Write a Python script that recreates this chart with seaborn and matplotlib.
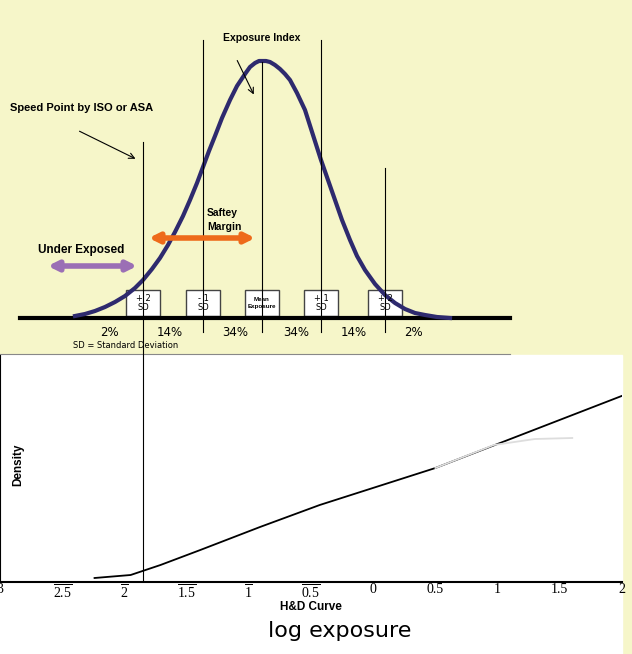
import matplotlib
matplotlib.use("Agg")
import matplotlib.pyplot as plt
import seaborn as sns
import pandas as pd

# bell curve (pixel coords of the top diagram)
bell_x = [75, 85, 95, 105, 115, 125, 135, 143, 152, 160, 168, 175, 183, 190, 197, 203,
          209, 215, 222, 230, 237, 245, 250, 255, 259, 262, 266, 270, 275, 280, 285,
          290, 297, 305, 313, 321, 328, 335, 342, 350, 357, 365, 375, 385, 395, 405,
          415, 425, 437, 450]
bell_y = [316, 314, 311, 307, 302, 296, 288, 280, 269, 258, 245, 232, 216, 200, 183, 167,
          151, 136, 118, 100, 86, 74, 67, 63, 61, 61, 61, 62, 65, 69, 74,
          80, 93, 110, 135, 160, 180, 200, 220, 240, 256, 270, 284, 295, 303, 309,
          313, 315, 317, 318]
sd_x = [143, 203, 262, 321, 385]
sd_labels = ["+ 2\nSD", "- 1\nSD", "Mean\nExposure", "+ 1\nSD", "+ 2\nSD"]
pct_x = [109, 170, 235, 296, 354, 413]
pct_labels = ["2%", "14%", "34%", "34%", "14%", "2%"]

# H&D curve
log_e = [-2.24, -1.95, -1.71, -1.39, -0.91, -0.43, 0.50, 2.08]
density = [0.04, 0.07, 0.17, 0.32, 0.55, 0.77, 1.14, 1.90]
shoulder_e = [0.50, 0.97, 1.30, 1.60]
shoulder_d = [1.14, 1.37, 1.43, 1.44]
ticks = [-3, -2.5, -2, -1.5, -1, -0.5, 0, 0.5, 1, 1.5, 2]
tick_labels = ["3", r"$\overline{2.5}$", r"$\overline{2}$", r"$\overline{1.5}$", r"$\overline{1}$",
               r"$\overline{0.5}$", "0", "0.5", "1", "1.5", "2"]

plt.rcParams["mathtext.fontset"] = "custom"
plt.rcParams["mathtext.rm"] = "Liberation Serif"
plt.rcParams["mathtext.it"] = "Liberation Serif"

W, H = 632, 654
fig = plt.figure(figsize=(W / 100, H / 100), dpi=100)
fig.patch.set_facecolor("#f6f6c9")

bold = dict(family="Liberation Sans", weight="bold", color="black")

# bottom: H&D curve
ax = fig.add_axes([0, (H - 582) / H, 622 / W, (582 - 355) / H])
ax.set_facecolor("white")
sns.lineplot(x=log_e, y=density, ax=ax, color="black", lw=1.3)
sns.lineplot(x=shoulder_e, y=shoulder_d, ax=ax, color="#dddddd", lw=1.3)
ax.set_xlim(-3, 2)
ax.set_ylim(0, 2.27)
for s in ["top", "right"]:
    ax.spines[s].set_visible(False)
ax.spines["bottom"].set_linewidth(1.5)
ax.set_yticks([])
ax.set_xticks(ticks)
ax.set_xticklabels(tick_labels, family="Liberation Serif", fontsize=10)
ax.tick_params(axis="x", length=0, pad=1)
fig.patches.append(plt.Rectangle((0, 0), 622 / W, (H - 355) / H, transform=fig.transFigure,
                                 color="white", zorder=-1))

# top: overlay in pixel coordinates
ov = fig.add_axes([0, 0, 1, 1], facecolor="none")
ov.set_xlim(0, W)
ov.set_ylim(H, 0)
ov.axis("off")

ov.plot([20, 510], [318, 318], color="black", lw=3)
ov.plot([0, 510], [354, 354], color="#888888", lw=0.8)
sns.lineplot(x=bell_x, y=bell_y, ax=ov, color="#2e2a6e", lw=3, sort=False)

tops = [142, 40, 62, 40, 168]
for x, t in zip(sd_x, tops):
    bottom = 580 if x == 143 else 332
    ov.plot([x, x], [t, bottom], color="black", lw=0.8)
for x, lab in zip(sd_x, sd_labels):
    ov.add_patch(plt.Rectangle((x - 17, 290), 34, 26, facecolor="white", edgecolor="#444444", lw=1))
    if "Mean" in lab:
        ov.text(x, 303, lab, ha="center", va="center", fontsize=4.5, **bold, linespacing=1.4)
    else:
        ov.text(x, 303, lab, ha="center", va="center", fontsize=6, family="DejaVu Sans", linespacing=1)
for x, lab in zip(pct_x, pct_labels):
    ov.text(x, 333, lab, ha="center", va="center", fontsize=8.5, family="DejaVu Sans")
ov.text(73, 346, "SD = Standard Deviation", ha="left", va="center", fontsize=6, family="DejaVu Sans")

ov.text(262, 38, "Exposure Index", ha="center", va="center", fontsize=7.5, **bold)
ov.annotate("", xy=(255, 97), xytext=(236, 58),
            arrowprops=dict(arrowstyle="->", color="black", lw=0.8))
ov.text(10, 108, "Speed Point by ISO or ASA", ha="left", va="center", fontsize=8, **bold)
ov.annotate("", xy=(138, 160), xytext=(77, 130),
            arrowprops=dict(arrowstyle="->", color="black", lw=0.8))
ov.text(207, 220, "Saftey\nMargin", ha="left", va="center", fontsize=7.5, linespacing=1.4, **bold)
ov.annotate("", xy=(146, 238), xytext=(258, 238),
            arrowprops=dict(arrowstyle="<|-|>", color="#ee6a1a", lw=4, mutation_scale=14))
ov.text(38, 250, "Under Exposed", ha="left", va="center", fontsize=8.5, **bold)
ov.annotate("", xy=(45, 266), xytext=(140, 266),
            arrowprops=dict(arrowstyle="<|-|>", color="#9b6fb5", lw=4, mutation_scale=14))

ov.text(18, 465, "Density", ha="center", va="center", rotation=90, fontsize=8.5, **bold)
ov.text(311, 607, "H&D Curve", ha="center", va="center", fontsize=8.5, **bold)
ov.text(340, 631, "log exposure", ha="center", va="center", fontsize=16, family="DejaVu Sans")

fig.savefig("out.png", dpi=100)
